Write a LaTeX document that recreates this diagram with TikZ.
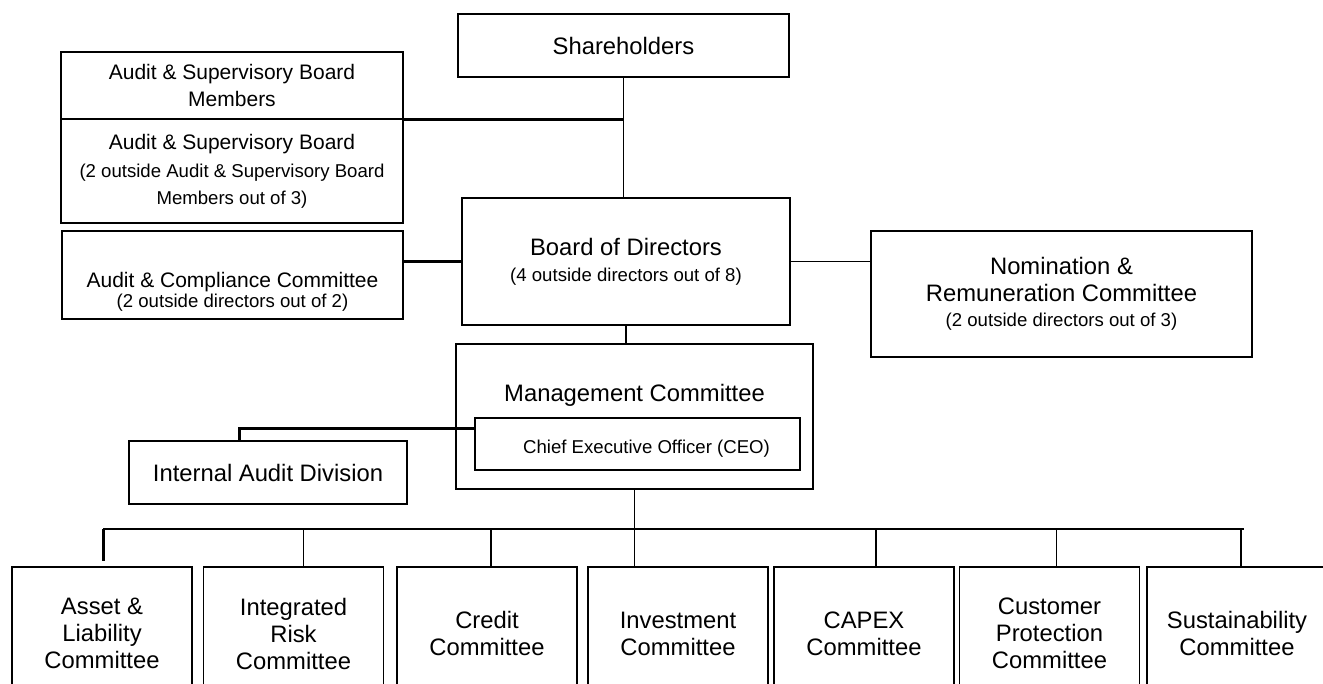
\documentclass[tikz,border=0pt]{standalone}
\usepackage{fontspec}
\setmainfont{Liberation Sans}
\newcommand{\bigfs}{\fontsize{23.8}{27}\selectfont}
\newcommand{\midfs}{\fontsize{21}{26}\selectfont}
\newcommand{\smallfs}{\fontsize{18.6}{25}\selectfont}
\tikzset{
  orgbox/.style={draw, rectangle, line width=1.6pt, align=center, inner sep=0pt, font=\bigfs},
  link/.style={line width=1.3pt},
  boldlink/.style={line width=3pt},
}

\begin{document}
\begin{tikzpicture}[x=1pt, y=-1pt]
  \useasboundingbox (0,0) rectangle (1323,684);
  \clip (0,0) rectangle (1323,684);

  % upper level
  \node[orgbox, minimum width=331, minimum height=63] (sh) at (623.5,45.5) {Shareholders};
  \node[orgbox, font=\midfs, minimum width=342, minimum height=67] (asbm) at (232,85.5)
    {Audit \& Supervisory Board\\[1pt]Members};
  \node[orgbox, font=\midfs, minimum width=342, minimum height=104] (asb) at (232,171)
    {Audit \& Supervisory Board\\[2pt]{\smallfs (2 outside Audit \& Supervisory Board}\\[1pt]{\smallfs Members out of 3)}};
  \node[orgbox, minimum width=341, minimum height=88,
    label={[font=\midfs, align=center, yshift=-17pt]center:Audit \& Compliance Committee\\[-6pt]{\smallfs (2 outside directors out of 2)}}]
    (acc) at (232.5,275) {};
  \node[orgbox, minimum width=328, minimum height=127] (bod) at (626,261.5)
    {Board of Directors\\[-1pt]{\smallfs (4 outside directors out of 8)}};
  \node[orgbox, minimum width=381, minimum height=126] (nrc) at (1061.5,294)
    {Nomination \&\\Remuneration Committee\\[-2pt]{\smallfs (2 outside directors out of 3)}};

  % management
  \node[orgbox, minimum width=357, minimum height=145,
    label={[font=\bigfs, anchor=north, inner sep=0pt, yshift=-41pt]north:Management Committee}]
    (mc) at (634.5,416.5) {};
  \node[orgbox, minimum width=325, minimum height=52,
    label={[font=\smallfs, xshift=9pt, yshift=-5pt]center:Chief Executive Officer (CEO)}]
    (ceo) at (637.5,444) {};
  \node[orgbox, minimum width=278, minimum height=63] (iad) at (268,472.5) {Internal Audit Division};

  % committees
  \foreach \nm/\cx/\txt in {b1/102/{Asset \&\\Liability\\Committee},
      b2/293.5/{Integrated\\Risk\\Committee}, b3/487/{Credit\\Committee},
      b4/678/{Investment\\Committee}, b5/864/{CAPEX\\Committee},
      b6/1049.5/{Customer\\Protection\\Committee}, b7/1237/{Sustainability\\Committee}}
    \node[orgbox, minimum width=180, minimum height=133] (\nm) at (\cx,633.5) {\txt};

  % connectors
  \draw[link] (sh.south) -- (sh.south |- bod.north);
  \draw[boldlink] (asbm.south east) -- (asbm.south east -| sh.south);
  \draw[link, line width=2.2pt] (bod.west) -- (bod.west -| acc.east);
  \draw[link] (bod.east) -- (bod.east -| nrc.west);
  \draw[link] (bod.south) -- (bod.south |- mc.north);
  \draw[boldlink] ([yshift=-11pt]ceo.north west) -| ([xshift=-29pt]iad.north);
  \draw[link] (mc.south) -- (mc.south |- b4.north);

  \coordinate (busl) at (103,529);
  \coordinate (busr) at (1244,529);
  \draw[link] (busl) -- (busr);
  \draw[boldlink] (busl) -- ([yshift=5pt]busl |- b1.north);
  \foreach \nm/\dx in {b2/10, b3/4, b5/12, b6/7, b7/4}
    \draw[link] ([xshift=\dx pt]\nm.north) -- ([xshift=\dx pt]\nm.north |- busl);
\end{tikzpicture}
\end{document}
